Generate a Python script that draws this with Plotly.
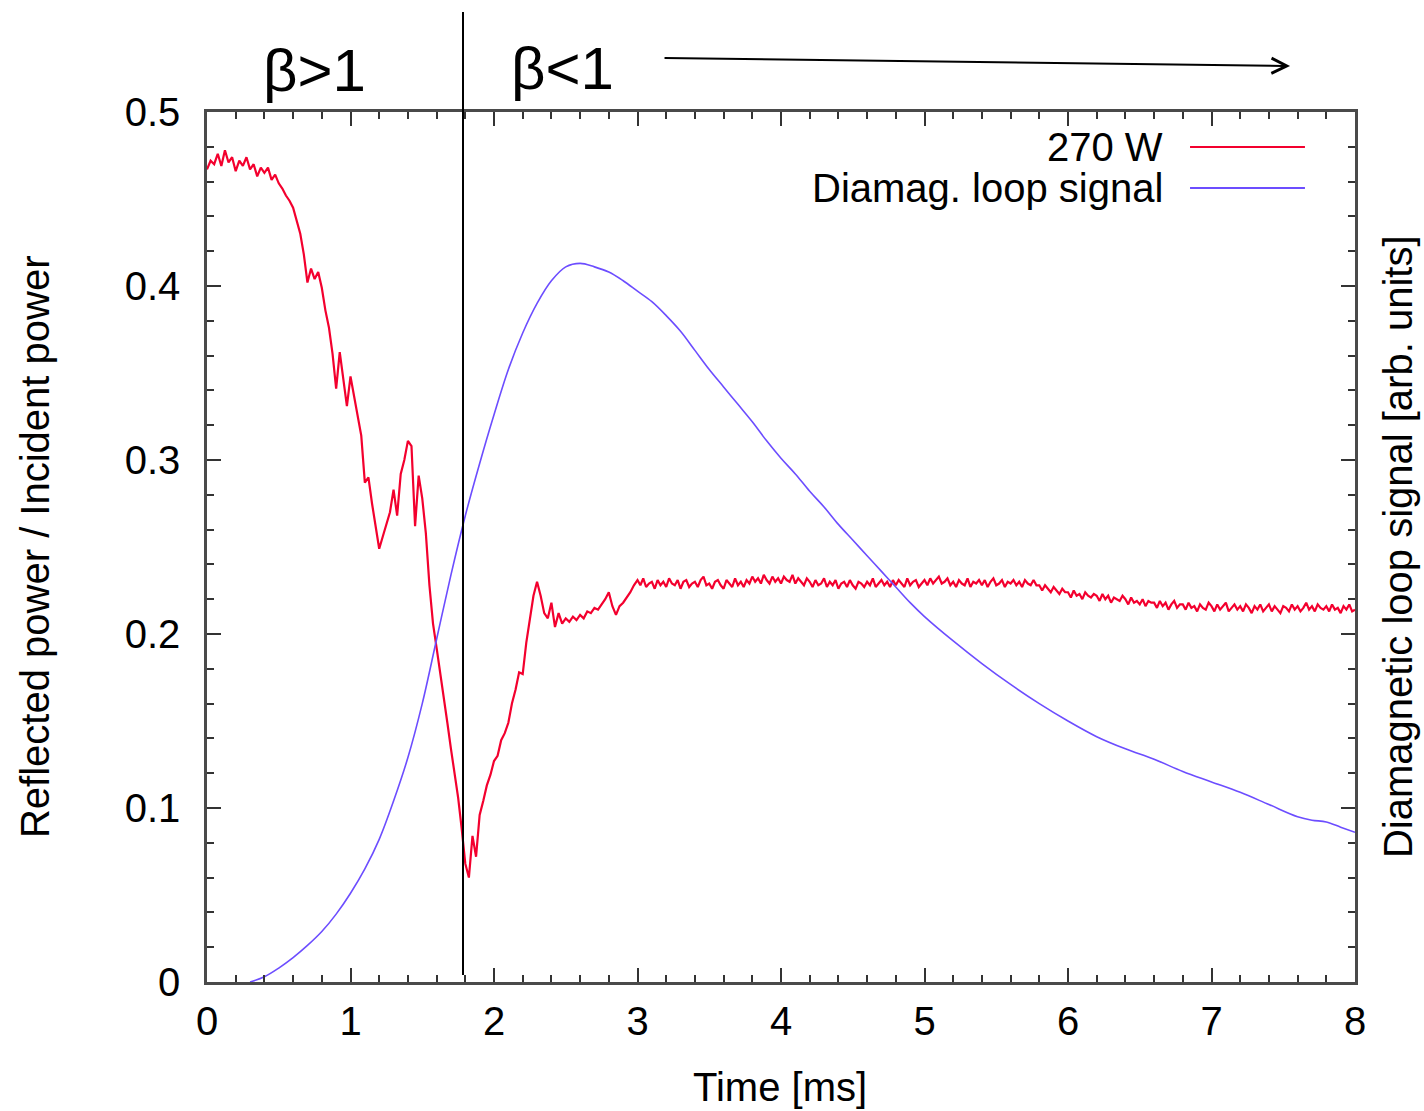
import plotly.graph_objects as go

# ---------------- data ----------------
# Reflected / incident power, 0 .. 2.975 ms every 0.025 ms
red_early = [
    0.467, 0.472, 0.470, 0.476, 0.469, 0.478, 0.471, 0.474, 0.466, 0.472,
    0.469, 0.474, 0.467, 0.470, 0.463, 0.468, 0.465, 0.468, 0.461, 0.464,
    0.459, 0.456, 0.452, 0.449, 0.445, 0.437, 0.430, 0.418, 0.402, 0.410,
    0.404, 0.408, 0.399, 0.386, 0.376, 0.361, 0.341, 0.362, 0.346, 0.331,
    0.348, 0.337, 0.327, 0.314, 0.287, 0.290, 0.275, 0.262, 0.249, 0.256,
    0.263, 0.270, 0.283, 0.268, 0.292, 0.300, 0.311, 0.308, 0.262, 0.291,
    0.278, 0.258, 0.228, 0.206, 0.192, 0.178, 0.165, 0.149, 0.134, 0.121,
    0.106, 0.088, 0.068, 0.060, 0.084, 0.072, 0.096, 0.104, 0.113, 0.119,
    0.127, 0.130, 0.139, 0.143, 0.149, 0.160, 0.168, 0.178, 0.177, 0.195,
    0.210, 0.222, 0.230, 0.222, 0.212, 0.209, 0.218, 0.204, 0.212, 0.206,
    0.209, 0.207, 0.210, 0.208, 0.211, 0.209, 0.213, 0.212, 0.215, 0.214,
    0.217, 0.220, 0.224, 0.216, 0.211, 0.216, 0.218, 0.221, 0.224, 0.228,
]
red_early_step = 0.025

# Reflected / incident power, 3.0 .. 8.0 ms every 0.02 ms
red_late = [
    0.231, 0.228, 0.232, 0.227, 0.229, 0.230, 0.226, 0.231, 0.228, 0.230,
    0.227, 0.232, 0.229, 0.228, 0.231, 0.226, 0.230, 0.231, 0.227, 0.229,
    0.230, 0.227, 0.231, 0.233, 0.228, 0.229, 0.226, 0.230, 0.231, 0.228,
    0.226, 0.231, 0.229, 0.227, 0.232, 0.228, 0.230, 0.227, 0.231, 0.229,
    0.233, 0.230, 0.232, 0.229, 0.234, 0.231, 0.229, 0.233, 0.230, 0.232,
    0.229, 0.233, 0.231, 0.230, 0.234, 0.229, 0.232, 0.230, 0.228, 0.232,
    0.230, 0.227, 0.231, 0.228, 0.229, 0.232, 0.227, 0.230, 0.228, 0.231,
    0.226, 0.229, 0.230, 0.227, 0.231, 0.228, 0.226, 0.230, 0.229, 0.227,
    0.230, 0.228, 0.232, 0.227, 0.229, 0.231, 0.228, 0.230, 0.227, 0.231,
    0.228, 0.231, 0.229, 0.227, 0.232, 0.228, 0.230, 0.231, 0.227, 0.229,
    0.231, 0.228, 0.232, 0.229, 0.231, 0.233, 0.229, 0.230, 0.232, 0.228,
    0.230, 0.227, 0.231, 0.229, 0.228, 0.232, 0.227, 0.230, 0.229, 0.231,
    0.228, 0.231, 0.227, 0.230, 0.232, 0.228, 0.229, 0.231, 0.227, 0.230,
    0.229, 0.231, 0.228, 0.230, 0.227, 0.231, 0.229, 0.228, 0.231, 0.228,
    0.228, 0.225, 0.228, 0.226, 0.224, 0.227, 0.225, 0.223, 0.226, 0.224,
    0.224, 0.221, 0.225, 0.222, 0.223, 0.220, 0.224, 0.222, 0.221, 0.223,
    0.222, 0.219, 0.223, 0.220, 0.222, 0.218, 0.221, 0.220, 0.219, 0.222,
    0.220, 0.217, 0.221, 0.218, 0.219, 0.217, 0.220, 0.216, 0.219, 0.218,
    0.218, 0.215, 0.219, 0.216, 0.218, 0.214, 0.217, 0.219, 0.215, 0.217,
    0.217, 0.214, 0.218, 0.215, 0.216, 0.213, 0.217, 0.215, 0.214, 0.218,
    0.216, 0.213, 0.217, 0.214, 0.216, 0.218, 0.213, 0.215, 0.217, 0.214,
    0.216, 0.213, 0.217, 0.215, 0.212, 0.216, 0.214, 0.217, 0.213, 0.215,
    0.217, 0.213, 0.216, 0.214, 0.212, 0.216, 0.215, 0.213, 0.217, 0.214,
    0.216, 0.213, 0.215, 0.218, 0.214, 0.216, 0.213, 0.217, 0.215, 0.214,
    0.216, 0.213, 0.217, 0.214, 0.215, 0.212, 0.216, 0.214, 0.217, 0.213,
    0.214,
]
red_late_start = 3.0
red_late_step = 0.02

# Diamagnetic loop signal (arb. units, drawn on the same scale)
blue_t = [0.30, 0.40, 0.50, 0.60, 0.70, 0.80, 0.90, 1.00, 1.10, 1.20,
          1.30, 1.40, 1.50, 1.60, 1.70, 1.80, 1.90, 2.00, 2.10, 2.20,
          2.30, 2.40, 2.50, 2.60, 2.70, 2.80, 2.90, 3.00, 3.10, 3.20,
          3.30, 3.40, 3.50, 3.60, 3.70, 3.80, 3.90, 4.00, 4.10, 4.20,
          4.30, 4.40, 4.50, 4.60, 4.70, 4.80, 4.90, 5.00, 5.20, 5.40,
          5.60, 5.80, 6.00, 6.20, 6.40, 6.60, 6.80, 7.00, 7.20, 7.40,
          7.60, 7.70, 7.80, 7.90, 8.00]
blue_v = [0.000, 0.003, 0.008, 0.014, 0.021, 0.029, 0.039, 0.051, 0.065, 0.082,
          0.104, 0.129, 0.160, 0.197, 0.234, 0.268, 0.298, 0.326, 0.352, 0.373,
          0.390, 0.403, 0.411, 0.413, 0.411, 0.408, 0.403, 0.397, 0.391, 0.383,
          0.374, 0.363, 0.352, 0.342, 0.332, 0.322, 0.311, 0.301, 0.292, 0.282,
          0.273, 0.263, 0.254, 0.245, 0.236, 0.227, 0.218, 0.210, 0.196, 0.183,
          0.171, 0.160, 0.150, 0.141, 0.134, 0.128, 0.121, 0.115, 0.109, 0.102,
          0.095, 0.093, 0.092, 0.089, 0.086]

x_ticks = [0, 1, 2, 3, 4, 5, 6, 7, 8]
y_ticks = [0, 0.1, 0.2, 0.3, 0.4, 0.5]
y_tick_text = ["0", "0.1", "0.2", "0.3", "0.4", "0.5"]
transition_t = 1.784

series_names = ["270 W", "Diamag. loop signal"]
red_color = "#f3002e"
blue_color = "#6c4dff"

red_t = [round(i * red_early_step, 4) for i in range(len(red_early))] + \
        [round(red_late_start + i * red_late_step, 4) for i in range(len(red_late))]
red_v = red_early + red_late

FONT = "Liberation Sans, Arial, sans-serif"

fig = go.Figure()
fig.add_trace(go.Scatter(x=red_t, y=red_v, mode="lines", name=series_names[0],
                         line=dict(color=red_color, width=2.2), showlegend=False))
fig.add_trace(go.Scatter(x=blue_t, y=blue_v, mode="lines", name=series_names[1],
                         line=dict(color=blue_color, width=1.6, shape="spline"),
                         showlegend=False))

axis_common = dict(
    showline=True, linecolor="#4a4a4a", linewidth=2.5, mirror="allticks",
    ticks="inside", tickcolor="#333333", tickwidth=2, ticklen=14,
    showgrid=False, zeroline=False,
    tickfont=dict(family=FONT, size=40, color="black"),
)

fig.update_xaxes(range=[0, 8], tickvals=x_ticks, ticklabelstandoff=2,
                 minor=dict(ticks="inside", dtick=0.2, tick0=0, ticklen=7,
                            tickwidth=1.5, tickcolor="#333333"),
                 **axis_common)
fig.update_yaxes(range=[0, 0.5], tickvals=y_ticks, ticktext=y_tick_text,
                 ticklabelstandoff=16,
                 minor=dict(ticks="inside", dtick=0.02, tick0=0, ticklen=7,
                            tickwidth=1.5, tickcolor="#333333"),
                 **axis_common)

# vertical marker of the beta transition
fig.add_shape(type="line", xref="x", yref="paper", x0=transition_t, x1=transition_t,
              y0=0.008, y1=1.115, line=dict(color="black", width=2), layer="above")

txt = dict(family=FONT, size=40, color="black")
annots = [
    dict(text="Time [ms]", x=0.499, y=-0.1207, font=txt),
    dict(text="Reflected power / Incident power", x=-0.1498, y=0.5, textangle=-90, font=txt),
    dict(text="Diamagnetic loop signal [arb. units]", x=1.0375, y=0.5, textangle=-90, font=txt),
    dict(text="β>1", x=0.094, y=1.048, font=dict(family=FONT, size=60, color="black")),
    dict(text="β<1", x=0.31, y=1.05, font=dict(family=FONT, size=60, color="black")),
]
for a in annots:
    fig.add_annotation(xref="paper", yref="paper", xanchor="center", yanchor="middle",
                       showarrow=False, **a)

# arrow pointing to later times
fig.add_annotation(text="", x=0.9434, y=1.0529, xref="paper", yref="paper",
                   ax=-627, ay=-8, axref="pixel", ayref="pixel",
                   showarrow=True, arrowhead=5, arrowsize=1.5, arrowwidth=2,
                   arrowcolor="black")

# legend (gnuplot style: text left, sample right)
legend_y = [0.9598, 0.9126]
for name, col, ly in zip(series_names, [red_color, blue_color], legend_y):
    fig.add_annotation(text=name, x=0.8345, y=ly, xref="paper", yref="paper",
                       xanchor="right", yanchor="middle", showarrow=False, font=txt)
    fig.add_shape(type="line", xref="paper", yref="paper", x0=0.8563, x1=0.9564,
                  y0=ly, y1=ly, line=dict(color=col, width=2))

fig.update_layout(
    width=1424, height=1111,
    margin=dict(l=207, r=69, t=112, b=129, pad=0),
    paper_bgcolor="white", plot_bgcolor="white",
    font=dict(family=FONT, color="black"),
    showlegend=False,
)

fig.write_html("out.html", config={"displayModeBar": False},
               post_script="document.body.style.margin='0';")
